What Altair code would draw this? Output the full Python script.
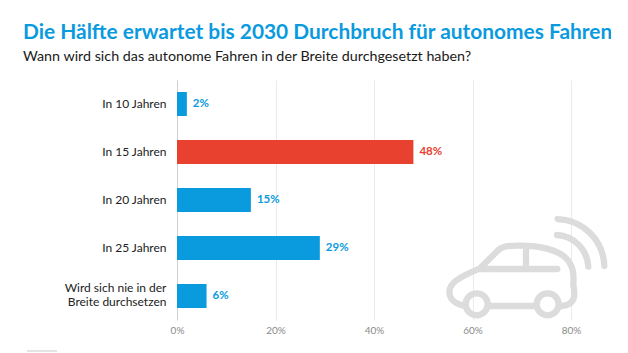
import altair as alt
import pandas as pd

categories = ["In 10 Jahren", "In 15 Jahren", "In 20 Jahren", "In 25 Jahren", "Wird sich nie in der\nBreite durchsetzen"]
values = [2, 48, 15, 29, 6]
colors = ["#0a9ade", "#e8412f", "#0a9ade", "#0a9ade", "#0a9ade"]
value_labels = ["2%", "48%", "15%", "29%", "6%"]
x_ticks = [0, 20, 40, 60, 80]

FONT = "Lato"
df = pd.DataFrame({"cat": categories, "val": values, "col": colors, "lab": value_labels})

CAR = ("M-185 107C-210 100 -227 90 -227 65C-227 40 -200 22 -135 -5L-85 -55C-70 -72 -50 -73 -25 -73"
       "C30 -75 110 -65 135 -20C150 5 145 30 145 45C150 70 155 105 110 108"
       "M-103 108L30 108"
       "M-112 103A33 33 0 1 1 -178 103A33 33 0 1 1 -112 103"
       "M101 103A33 33 0 1 1 35 103A33 33 0 1 1 101 103"
       "M-135 -3L97 -3M3 -60L3 -3"
       "M98 -153A145 145 0 0 1 238 -12"
       "M96 -105A100 100 0 0 1 190 -10")

y = alt.Y("cat:N", sort=categories, title=None,
          scale=alt.Scale(paddingInner=0.5, paddingOuter=0.25),
          axis=alt.Axis(labelExpr="split(datum.label, '\\n')", ticks=False, domain=True,
                        domainColor="#cfcfcf", domainWidth=1, labelPadding=11, labelFont=FONT,
                        labelFontSize=12, labelColor="#222222", labelLineHeight=14, grid=False,
                        labelOffset={"condition": {"test": "indexof(datum.label, '\\n') >= 0", "value": -8}, "value": 0}))
x = alt.X("val:Q", title=None,
          scale=alt.Scale(domain=[0, 80], nice=False),
          axis=alt.Axis(values=x_ticks, labelExpr="datum.value + '%'", ticks=False, domain=False,
                        grid=True, gridColor="#ebebeb", gridWidth=1, labelPadding=5, labelFont=FONT,
                        labelFontSize=10, labelColor="#8a8a8a", labelFlush=False))

bars = alt.Chart(df).mark_bar(cornerRadius=0).encode(
    x=x, y=y, color=alt.Color("col:N", scale=None))
labels = alt.Chart(df).mark_text(align="left", baseline="middle", dx=6, font=FONT,
                                 fontWeight="bold", fontSize=11.5).encode(
    x="val:Q", y=alt.Y("cat:N", sort=categories), text="lab:N", color=alt.Color("col:N", scale=None))
car = alt.Chart(df.head(1)).mark_point(shape=CAR, filled=False, stroke="#dcdcdc", strokeWidth=6.3,
                                       strokeCap="round", size=0.444, opacity=1).encode(
    x=alt.value(348), y=alt.value(190))
stub = alt.Chart(df.head(1)).mark_rule(color="#e4e4e4", strokeWidth=2, clip=False).encode(
    x=alt.value(-150), x2=alt.value(-120), y=alt.value(271))

chart = alt.layer(bars, labels, car, stub).properties(
    width=394, height=240, background="white",
    padding={"left": 169, "top": 72, "right": 40, "bottom": 33},
    autosize=alt.AutoSizeParams(type="none"),
    title=alt.TitleParams(
        "Die Hälfte erwartet bis 2030 Durchbruch für autonomes Fahren",
        subtitle="Wann wird sich das autonome Fahren in der Breite durchgesetzt haben?",
        anchor="start", frame="group", dx=-154, offset=16, font=FONT, fontSize=20.9, fontWeight="bold",
        color="#0a9ade", subtitleFont=FONT, subtitleFontSize=14.3, subtitleColor="#1a1a1a", subtitlePadding=7),
).configure_view(strokeWidth=0)

chart.save("out.html", embed_options={"renderer": "svg", "actions": False})
